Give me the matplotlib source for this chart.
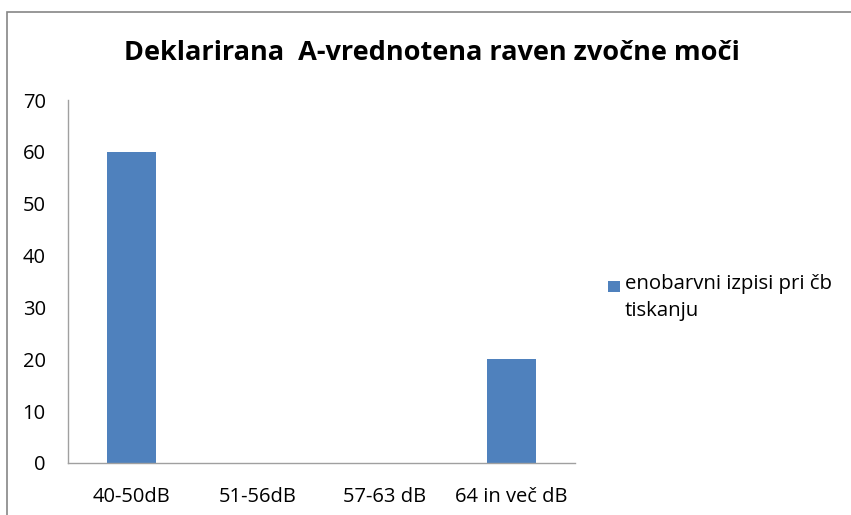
import matplotlib
matplotlib.use("Agg")
import matplotlib.pyplot as plt
from matplotlib.patches import Rectangle

categories = ["40-50dB", "51-56dB", "57-63 dB", "64 in več dB"]
values = [60, 0, 0, 20]
series_name = "enobarvni izpisi pri čb\ntiskanju"
title = "Deklarirana  A-vrednotena raven zvočne moči"
yticks = [0, 10, 20, 30, 40, 50, 60, 70]

plt.rcParams['font.family'] = ['Open Sans', 'DejaVu Sans']

W, H = 851, 515
fig = plt.figure(figsize=(W / 100, H / 100), dpi=100)
fig.patch.set_facecolor("white")

ax = fig.add_axes([68 / W, 1 - 463 / H, (575 - 68) / W, (463 - 100) / H])
x = list(range(len(categories)))
bar_color = "#4F81BD"
ax.bar(x, values, width=0.39, color=bar_color, zorder=2)
ax.set_xlim(-0.5, len(categories) - 0.5)
ax.set_ylim(0, 70)
ax.set_yticks(yticks)
ax.set_xticks(x)
ax.set_xticklabels(categories)
ax.tick_params(axis='both', length=0, labelsize=14.5, colors="#000000")
ax.tick_params(axis='y', pad=16)
ax.tick_params(axis='x', pad=17)
for s in ["top", "right"]:
    ax.spines[s].set_visible(False)
for s in ["left", "bottom"]:
    ax.spines[s].set_color("#A0A0A0")
    ax.spines[s].set_linewidth(1.0)

fig.text(432 / W, 1 - 53 / H, title, ha="center", va="center",
         fontsize=19.5, fontweight="bold", color="#000000")

# legend
fig.patches.append(Rectangle((608 / W, 1 - 292 / H), 12 / W, 11 / H,
                             transform=fig.transFigure, facecolor=bar_color,
                             edgecolor="none"))
fig.text(625 / W, 1 - 274 / H, series_name, ha="left", va="top",
         fontsize=14.7, color="#000000", linespacing=1.45)

# chart border
fig.patches.append(Rectangle((7 / W, -0.05), 1.1, 1 - 12 / H + 0.05,
                             transform=fig.transFigure, facecolor="none",
                             edgecolor="#868686", linewidth=1.2))

fig.savefig("out.png", dpi=100, facecolor="white")
